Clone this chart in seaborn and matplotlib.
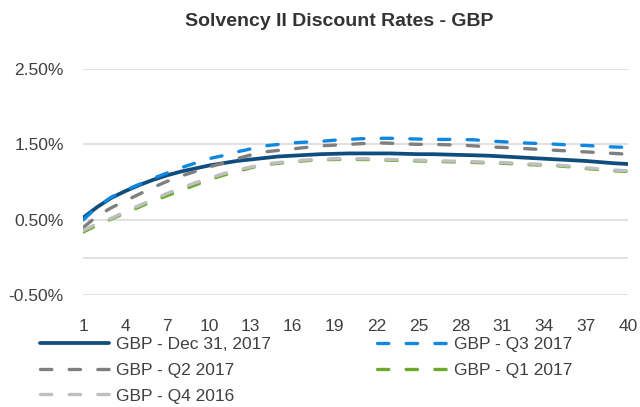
import matplotlib
matplotlib.use("Agg")
import matplotlib.pyplot as plt
import matplotlib.ticker as mticker
import pandas as pd
import seaborn as sns

# maturity in years (categories on the x axis)
maturities = list(range(1, 41))
tick_years = list(range(1, 41, 3))

# discount rates in percent
dec_2017 = [0.53, 0.67, 0.79, 0.88, 0.96, 1.03, 1.09, 1.14, 1.18, 1.22,
            1.25, 1.28, 1.30, 1.32, 1.34, 1.35, 1.36, 1.37, 1.375, 1.38,
            1.38, 1.38, 1.38, 1.375, 1.37, 1.37, 1.365, 1.36, 1.355, 1.35,
            1.34, 1.33, 1.32, 1.31, 1.30, 1.29, 1.28, 1.265, 1.25, 1.24]
q3_2017 = [0.50, 0.67, 0.80, 0.89, 0.97, 1.05, 1.12, 1.19, 1.25, 1.31,
           1.35, 1.40, 1.44, 1.48, 1.50, 1.52, 1.53, 1.54, 1.555, 1.565,
           1.575, 1.58, 1.58, 1.575, 1.57, 1.565, 1.565, 1.565, 1.56, 1.545,
           1.535, 1.525, 1.515, 1.51, 1.50, 1.49, 1.485, 1.475, 1.465, 1.46]
q2_2017 = [0.40, 0.55, 0.66, 0.75, 0.84, 0.93, 1.01, 1.08, 1.14, 1.20,
           1.25, 1.31, 1.36, 1.40, 1.42, 1.44, 1.46, 1.48, 1.49, 1.50,
           1.51, 1.52, 1.515, 1.505, 1.50, 1.50, 1.495, 1.49, 1.48, 1.465,
           1.46, 1.45, 1.44, 1.43, 1.42, 1.41, 1.40, 1.39, 1.38, 1.37]
q1_2017 = [0.34, 0.43, 0.51, 0.59, 0.67, 0.75, 0.82, 0.89, 0.96, 1.03,
           1.09, 1.14, 1.19, 1.23, 1.25, 1.27, 1.285, 1.295, 1.30, 1.30,
           1.30, 1.295, 1.29, 1.285, 1.28, 1.275, 1.27, 1.265, 1.26, 1.255,
           1.25, 1.24, 1.23, 1.225, 1.215, 1.20, 1.18, 1.165, 1.15, 1.14]
q4_2016 = [0.36, 0.45, 0.52, 0.61, 0.69, 0.77, 0.85, 0.92, 0.99, 1.05,
           1.11, 1.16, 1.20, 1.24, 1.26, 1.28, 1.295, 1.30, 1.31, 1.31,
           1.31, 1.305, 1.30, 1.295, 1.29, 1.285, 1.28, 1.275, 1.27, 1.265,
           1.26, 1.25, 1.24, 1.235, 1.225, 1.21, 1.19, 1.175, 1.16, 1.15]

series_names = ["GBP - Dec 31, 2017", "GBP - Q3 2017", "GBP - Q2 2017",
                "GBP - Q1 2017", "GBP - Q4 2016"]
series_values = [dec_2017, q3_2017, q2_2017, q1_2017, q4_2016]
colors = ["#0E4D7E", "#1188E0", "#7F7F7F", "#6AAB2E", "#BFBFBF"]

sns.set_theme(style="white")
plt.rcParams["font.family"] = ["Liberation Sans Narrow", "Liberation Sans", "DejaVu Sans"]

fig = plt.figure(figsize=(6.4, 4.07), dpi=100)
ax = fig.add_axes([0.130, 0.274, 0.851, 0.557])

for name, values, color in zip(series_names, series_values, colors):
    df = pd.DataFrame({"year": maturities, "rate": values})
    solid = "Dec" in name
    sns.lineplot(data=df, x="year", y="rate", ax=ax, color=color,
                 linewidth=2.7 if solid else 2.4, label=name)
    line = ax.lines[-1]
    if not solid:
        line.set_dashes((3.4, 5.2))
        line.set_dash_capstyle("round")
    line.set_solid_capstyle("round")

ax.set_xlim(1, 40)
ax.set_ylim(-0.5, 2.5)
ax.set_xticks(tick_years)
ax.set_yticks([-0.5, 0.5, 1.5, 2.5])
ax.yaxis.set_major_formatter(mticker.FuncFormatter(lambda v, p: f"{v:.2f}%"))
ax.grid(axis="y", color="#D9D9D9", linewidth=1.1)
ax.axhline(0, color="#D9D9D9", linewidth=1.1, zorder=0.5)
ax.set_axisbelow(True)
for s in ax.spines.values():
    s.set_visible(False)
ax.tick_params(axis="both", length=0, labelsize=12.5, labelcolor="#404040")
ax.tick_params(axis="x", pad=17)
ax.tick_params(axis="y", pad=14)
ax.set_xlabel("")
ax.set_ylabel("")

fig.text(0.53, 1 - 22 / 407, "Solvency II Discount Rates - GBP", ha="center",
         va="center", fontsize=14, fontweight="bold", color="#333333")

handles, labels = ax.get_legend_handles_labels()
ax.get_legend().remove()
lookup = dict(zip(labels, handles))
order = ["GBP - Dec 31, 2017", "GBP - Q2 2017", "GBP - Q4 2016",
         "GBP - Q3 2017", "GBP - Q1 2017"]
leg = fig.legend([lookup[k] for k in order], order, ncol=2,
                 loc="upper left", bbox_to_anchor=(0.0625, 0.173),
                 frameon=False, fontsize=12.5, handlelength=4.0,
                 handletextpad=0.4, columnspacing=6.1, labelspacing=0.62,
                 borderaxespad=0, borderpad=0)
for t in leg.get_texts():
    t.set_color("#404040")
for h in leg.get_lines():
    h.set_dash_capstyle("round")

fig.savefig("out.png", dpi=100)
